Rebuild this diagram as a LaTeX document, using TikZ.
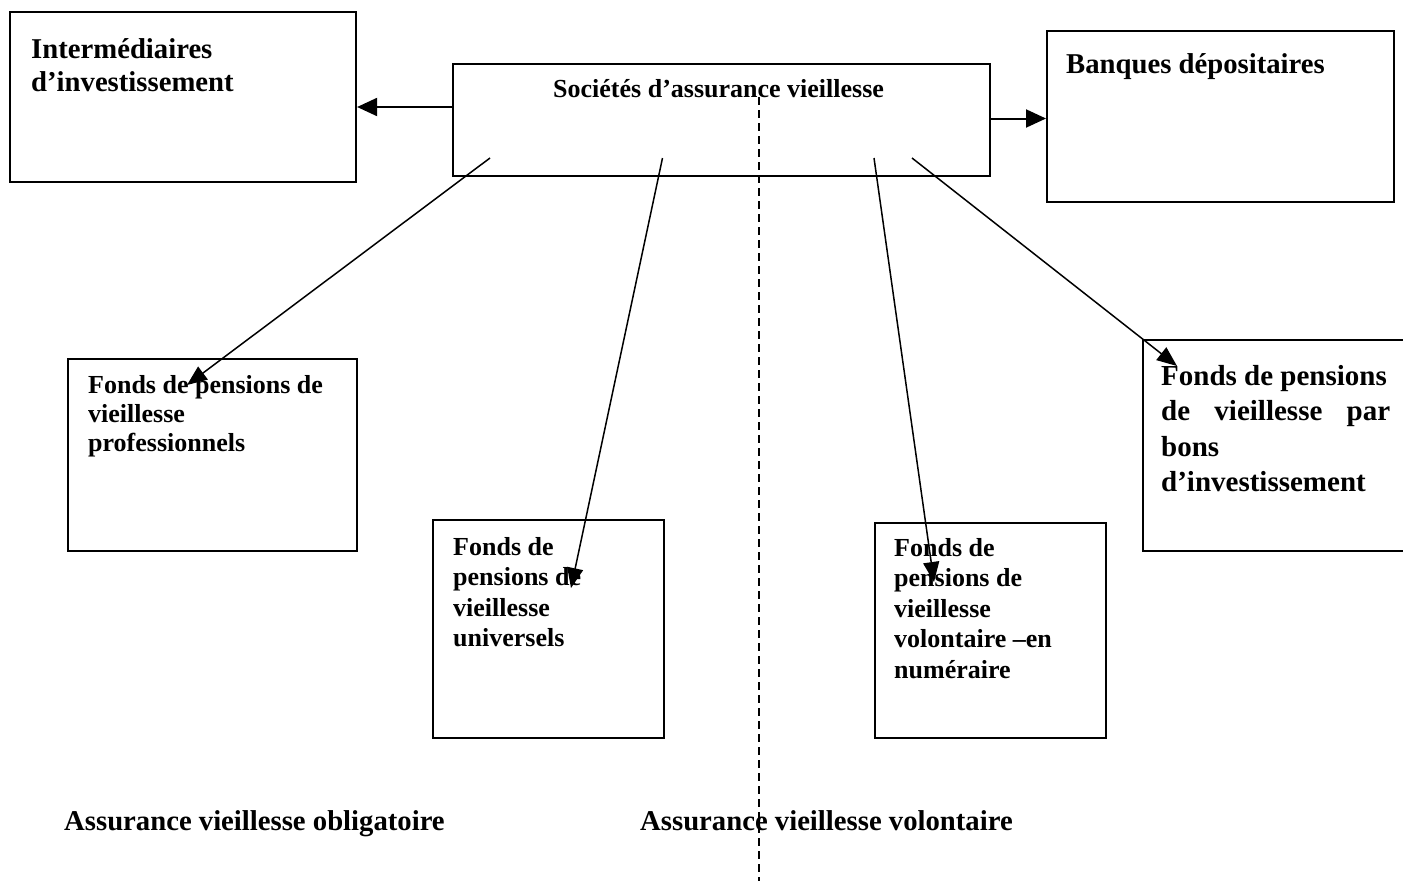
\documentclass[tikz,border=0pt]{standalone}
\usepackage{fontspec}
\setmainfont{Liberation Serif}
\usetikzlibrary{arrows.meta,calc}
\begin{document}
\begin{tikzpicture}[x=1pt,y=-1pt,
  box/.style={draw, line width=1.8pt, rectangle, inner sep=0pt, anchor=north west},
  lbl/.style={anchor=base west, align=left, inner sep=0pt, font={\bfseries\fontsize{26}{30.5}\selectfont}},
  big/.style={font={\bfseries\fontsize{28.7}{33.5}\selectfont}},
  arr/.style={line width=1.5pt, -{Triangle[length=20pt,width=16pt]}},
  harr/.style={line width=2pt, -{Triangle[length=20pt,width=18pt]}},
  divider/.style={line width=1.2pt, dash pattern=on 8pt off 5pt}
]
\useasboundingbox (0,0) rectangle (1403,881);
\clip (0,0) rectangle (1403,881);

% boxes
\node[box, minimum width=346, minimum height=170.3] (inter) at (9.3,10.7) {};
\node[box, minimum width=537.3, minimum height=112.3] (central) at (451.7,62.7) {};
\node[box, minimum width=346.7, minimum height=170.7] (banques) at (1046,30) {};
\node[box, minimum width=288.4, minimum height=191.7] (prof) at (67.3,358.3) {};
\node[box, minimum width=231, minimum height=218] (univ) at (432,519) {};
\node[box, minimum width=231, minimum height=215] (vol) at (874,522) {};
\node[box, minimum width=300, minimum height=211] (bons) at (1142.3,339) {};

% texts (multi-line nodes are placed by the baseline of their last line)
\node[lbl, big] (tinter) at (31,91.8) {Intermédiaires\\d’investissement};
\node[lbl] (tcentral) at (553,97.7) {Sociétés d’assurance vieillesse};
\node[lbl, big] (tbanques) at (1066,73.5) {Banques dépositaires};
\node[lbl, font={\bfseries\fontsize{26}{29}\selectfont}] (tprof) at (88,451) {Fonds de pensions de\\vieillesse\\professionnels};
\node[lbl] (tuniv) at (453,646.5) {Fonds de\\pensions de\\vieillesse\\universels};
\node[lbl] (tvol) at (894,678) {Fonds de\\pensions de\\vieillesse\\volontaire –en\\numéraire};
\node[lbl, font={\bfseries\fontsize{29}{35.5}\selectfont}] (tbons) at (1161,491.5)
  {Fonds de pensions\\\makebox[229pt][s]{de vieillesse par}\\bons\\d’investissement};
\node[lbl, big] (oblig) at (64,830) {Assurance vieillesse obligatoire};
\node[lbl, big] (volon) at (640,830) {Assurance vieillesse volontaire};

% divider
\coordinate (dtop) at (759,97);
\coordinate (dbot) at (759,881);
\draw[divider] (dtop) -- (dbot);

% horizontal arrows
\coordinate (l1) at (451.7,107);
\draw[harr] (l1) -- (l1 -| inter.east);
\coordinate (r1) at (989,118.5);
\draw[harr] (r1) -- (r1 -| banques.west);

% diagonal arrows
\coordinate (s1) at (490,158);
\coordinate (e1) at (187,385);
\coordinate (s2) at (662.5,158);
\coordinate (e2) at (571,588);
\coordinate (s3) at (874,158);
\coordinate (e3) at (934,582);
\coordinate (s4) at (912,158);
\coordinate (e4) at (1177,366);
\draw[arr] (s1) -- (e1);
\draw[arr] (s2) -- (e2);
\draw[arr] (s3) -- (e3);
\draw[arr] (s4) -- (e4);
\end{tikzpicture}
\end{document}
